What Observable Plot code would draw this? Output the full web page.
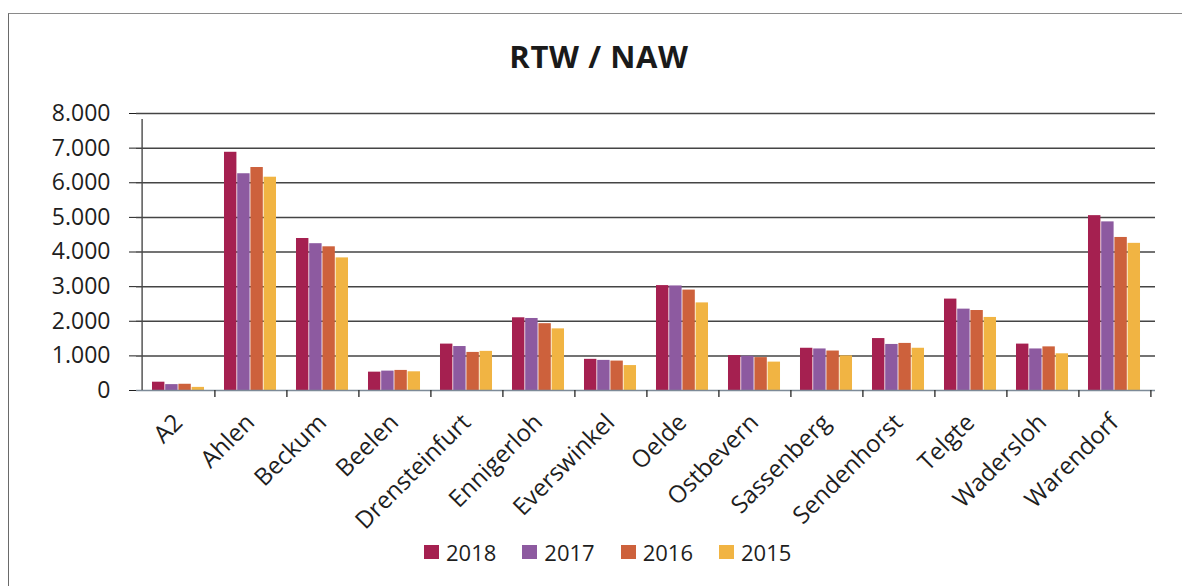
<!DOCTYPE html>
<html>
<head>
<meta charset="utf-8">
<script src="https://cdn.jsdelivr.net/npm/d3@7"></script>
<script src="https://cdn.jsdelivr.net/npm/@observablehq/plot@0.6"></script>
<style>
  html, body { margin: 0; padding: 0; background: #fff; }
  #wrap { position: relative; width: 1182px; height: 586px; overflow: hidden; font-family: "Open Sans", sans-serif; color: #1e1e1e; }
  #frame { position: absolute; left: 8px; top: 13px; width: 1200px; height: 600px; border-top: 1px solid #8a8a8a; border-left: 1px solid #6a6a6a; }
  #title { position: absolute; left: 0; top: 35px; width: 1198px; text-align: center; font-weight: bold; font-size: 31px; letter-spacing: 0.6px; line-height: normal; color: #1a1a1a; }
  #chart { position: absolute; left: 0; top: 0; }
  #legend { position: absolute; left: 424px; top: 537px; height: 30px; display: flex; align-items: center; font-size: 22px; }
  .item { display: flex; align-items: center; margin-right: 26px; }
  .sw { width: 15px; height: 14px; margin-right: 7px; }
</style>
</head>
<body>
<div id="wrap">
  <div id="frame"></div>
  <div id="chart"></div>
  <div id="title">RTW / NAW</div>
  <div id="legend"></div>
</div>
<script>
// ---- data ----
const towns = ["A2", "Ahlen", "Beckum", "Beelen", "Drensteinfurt", "Ennigerloh", "Everswinkel", "Oelde", "Ostbevern", "Sassenberg", "Sendenhorst", "Telgte", "Wadersloh", "Warendorf"];
const years = ["2018", "2017", "2016", "2015"];
const v2018 = [240, 6880, 4390, 530, 1340, 2100, 900, 3030, 1010, 1220, 1500, 2640, 1340, 5050];
const v2017 = [170, 6260, 4240, 560, 1270, 2080, 870, 3020, 990, 1200, 1330, 2350, 1200, 4870];
const v2016 = [180, 6440, 4150, 580, 1100, 1930, 850, 2900, 950, 1140, 1360, 2310, 1260, 4420];
const v2015 = [90, 6160, 3830, 540, 1130, 1780, 720, 2530, 820, 1000, 1220, 2110, 1060, 4250];
const yTicks = [0, 1000, 2000, 3000, 4000, 5000, 6000, 7000, 8000];
const colors = ["#a52050", "#8d5aa0", "#cd613c", "#f1b443"];

const series = [v2018, v2017, v2016, v2015];
const table = [];
years.forEach((yr, i) => towns.forEach((t, j) => table.push({town: t, year: yr, value: series[i][j]})));

const W = 1182, H = 500, ML = 136, MR = 27, MT = 113, MB = 110;
const bw = (W - ML - MR) / towns.length;
const barW = 13.2;
const inset = (bw - barW) / 2;
const fmt = d => d.toLocaleString("de-DE");

const barMarks = years.map((yr, i) =>
  Plot.barY(table.filter(d => d.year === yr), {
    x: "town", y: "value", fill: "year",
    insetLeft: inset, insetRight: inset, dx: (i - 1.5) * barW
  })
);

const plot = Plot.plot({
  width: W, height: H,
  marginLeft: ML, marginRight: MR, marginTop: MT, marginBottom: MB,
  style: { fontFamily: "Open Sans", fontSize: "23px", color: "#1e1e1e", background: "transparent", overflow: "visible" },
  x: { domain: towns, padding: 0, label: null, tickSize: 0, tickRotate: -45, tickPadding: 28 },
  y: { domain: [0, 8000], ticks: yTicks, tickFormat: fmt, tickSize: 7, tickPadding: 19, label: null },
  color: { domain: years, range: colors },
  marks: [
    Plot.ruleY(yTicks.slice(1), { stroke: "#444", strokeWidth: 1.5 }),
    ...barMarks,
    Plot.ruleY([0], { stroke: "#7d8b98", strokeWidth: 1.6 }),
    Plot.ruleX([towns[0]], { dx: -bw / 2, y1: 0, y2: 8000, insetBottom: -6, stroke: "#4a4a4a", strokeWidth: 1.4 }),
    Plot.ruleX(towns, { dx: bw / 2, y1: 0, y2: 0, insetBottom: -7, stroke: "#333", strokeWidth: 1.4 })
  ]
});
// larger category labels along the bottom axis
plot.querySelectorAll("[aria-label='x-axis tick label']").forEach(g => g.setAttribute("font-size", "24px"));
document.getElementById("chart").appendChild(plot);

const col = plot.scale("color");
const leg = document.getElementById("legend");
col.domain.forEach((yr, i) => {
  const it = document.createElement("div");
  it.className = "item";
  const sw = document.createElement("div");
  sw.className = "sw";
  sw.style.background = col.range[i];
  const tx = document.createElement("span");
  tx.textContent = yr;
  it.appendChild(sw); it.appendChild(tx);
  leg.appendChild(it);
});
</script>
</body>
</html>
